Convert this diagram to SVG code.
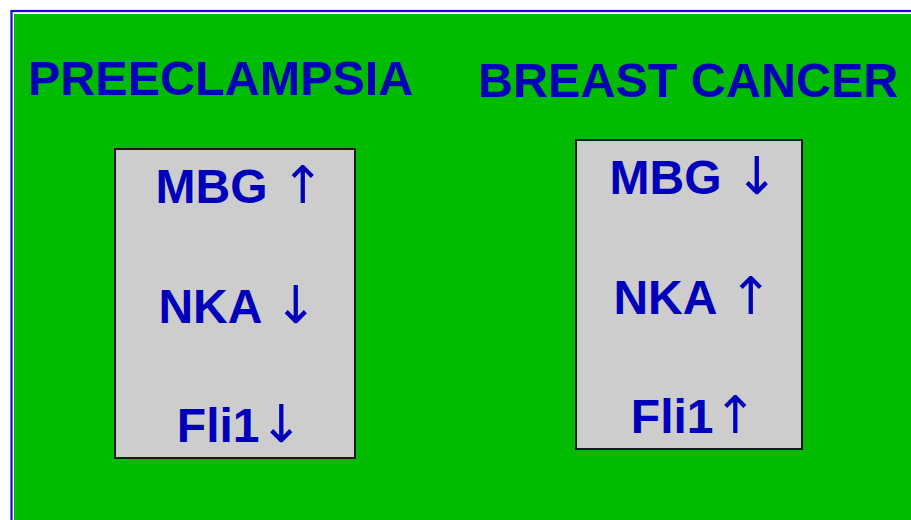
<svg xmlns="http://www.w3.org/2000/svg" width="911" height="520" viewBox="0 0 911 520">
  <style>
    .title { font-family: "Liberation Sans", Arial, sans-serif; font-weight: bold; font-size: 48.5px; fill: #0000bb; }
    .item { font-family: "Liberation Sans", Arial, sans-serif; font-weight: bold; font-size: 48px; fill: #0000bb; text-anchor: middle; }
    .arrow { font-family: "DejaVu Sans", sans-serif; font-weight: normal; font-size: 52px; }
    .panel { fill: #cdcdcd; stroke: #1a1a1a; stroke-width: 2; }
  </style>

  <!-- page and slide frame -->
  <rect x="0" y="0" width="911" height="520" fill="#ffffff"/>
  <rect x="11.5" y="11" width="905" height="515" fill="none" stroke="#1010cc" stroke-width="2.2"/>
  <rect x="14" y="14" width="897" height="506" fill="#00bb00"/>

  <!-- headings -->
  <text class="title" x="28" y="95">PREECLAMPSIA</text>
  <text class="title" x="478" y="97">BREAST CANCER</text>

  <!-- preeclampsia markers -->
  <g id="preeclampsia-box">
    <rect class="panel" x="115" y="149" width="240" height="309"/>
    <text class="item" x="240" y="203">MBG <tspan class="arrow">↑</tspan></text>
    <text class="item" x="238" y="323">NKA <tspan class="arrow">↓</tspan></text>
    <text class="item" x="240" y="442">Fli1<tspan class="arrow">↓</tspan></text>
  </g>

  <!-- breast cancer markers -->
  <g id="breast-cancer-box">
    <rect class="panel" x="576" y="140" width="226" height="309"/>
    <text class="item" x="694" y="194">MBG <tspan class="arrow">↓</tspan></text>
    <text class="item" x="693" y="314">NKA <tspan class="arrow">↑</tspan></text>
    <text class="item" x="694" y="433">Fli1<tspan class="arrow">↑</tspan></text>
  </g>

  <g id="connectors"/>
</svg>
